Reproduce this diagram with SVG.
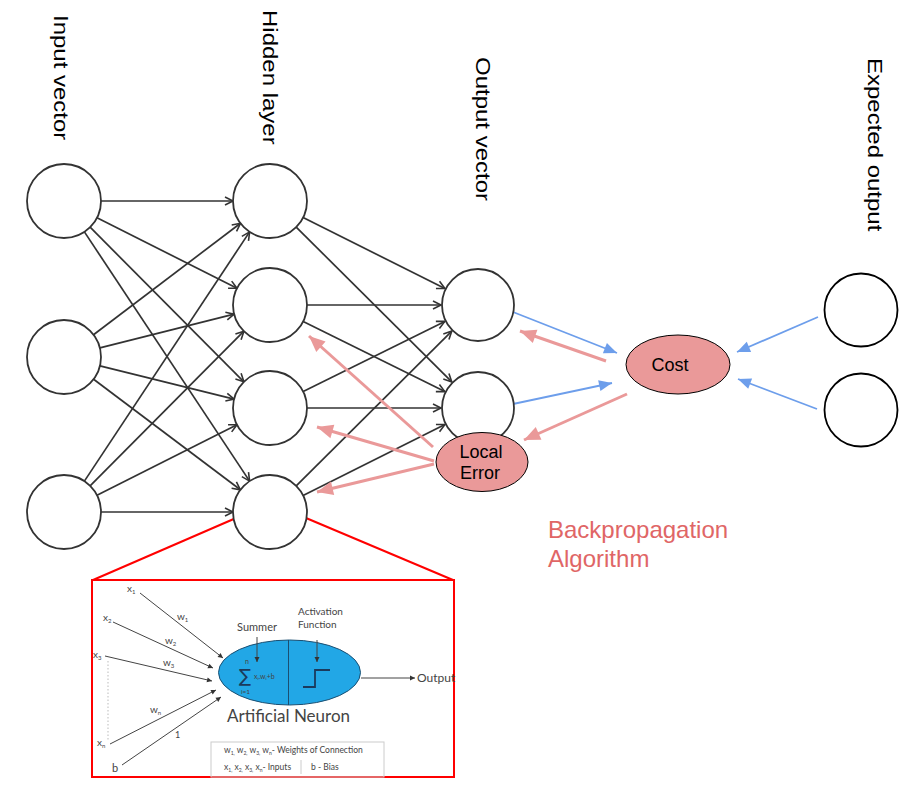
<svg xmlns="http://www.w3.org/2000/svg" width="912" height="785" viewBox="0 0 912 785">
<style>
.nn{fill:#fff;stroke:#333;stroke-width:1.8}
.ex{fill:#fff;stroke:#000;stroke-width:1.8}
.el{fill:#ea9999;stroke:#000;stroke-width:1}
.bl{stroke:#333;stroke-width:1.7;fill:none;marker-end:url(#chev)}
.bu{stroke:#6d9eeb;stroke-width:1.8;fill:none;marker-end:url(#blueA)}
.pk{stroke:#ea9999;stroke-width:3;fill:none;marker-end:url(#pinkA)}
.lab{font-family:"Liberation Sans",Arial,sans-serif;font-size:24px;fill:#000}
.et{font-family:"Liberation Sans",Arial,sans-serif;font-size:18px;fill:#000;text-anchor:middle}
.bp{font-family:"Liberation Sans",Arial,sans-serif;font-size:24px;fill:#e06666}
.il{stroke:#444;stroke-width:1;fill:none;marker-end:url(#smallA)}
.it{font-family:Lato,"Liberation Sans",sans-serif;fill:#444}
</style>
<defs>
<marker id="chev" viewBox="-10 -6 12 12" refX="0" refY="0" markerWidth="12" markerHeight="12" markerUnits="userSpaceOnUse" orient="auto">
<path d="M-8,-4 L0,0 L-8,4" fill="none" stroke="#333" stroke-width="1.6"/>
</marker>
<marker id="blueA" viewBox="-14 -7 16 14" refX="0" refY="0" markerWidth="16" markerHeight="14" markerUnits="userSpaceOnUse" orient="auto">
<path d="M-13,-5.5 L0,0 L-13,5.5 Z" fill="#6d9eeb"/>
</marker>
<marker id="pinkA" viewBox="-18 -9 20 18" refX="0" refY="0" markerWidth="20" markerHeight="18" markerUnits="userSpaceOnUse" orient="auto">
<path d="M-16,-7 L0,0 L-16,7 Z" fill="#ea9999"/>
</marker>
<marker id="smallA" viewBox="-7 -4 8 8" refX="0" refY="0" markerWidth="8" markerHeight="8" markerUnits="userSpaceOnUse" orient="auto">
<path d="M-5,-2.5 L0,0 L-5,2.5 Z" fill="#333"/>
</marker>
</defs>
<rect width="912" height="785" fill="#fff"/>

<g id="labels">
<text class="lab" transform="translate(54,15) rotate(90) scale(1,0.88)">Input vector</text>
<text class="lab" transform="translate(263,10) rotate(90) scale(1,0.88)">Hidden layer</text>
<text class="lab" transform="translate(476,57) rotate(90) scale(1,0.88)">Output vector</text>
<text class="lab" transform="translate(868,58) rotate(90) scale(1,0.88)">Expected output</text>
<text class="bp" x="548" y="538">Backpropagation</text>
<text class="bp" x="548" y="567">Algorithm</text>
</g>

<g id="connectors">
<line class="bl" x1="101" y1="201" x2="233" y2="201"/>
<line class="bl" x1="97" y1="217.7" x2="237" y2="288.3"/>
<line class="bl" x1="90.1" y1="227.2" x2="243.9" y2="381.8"/>
<line class="bl" x1="84.4" y1="231.9" x2="249.6" y2="481.1"/>
<line class="bl" x1="93.5" y1="334.7" x2="240.5" y2="223.3"/>
<line class="bl" x1="99.9" y1="347.9" x2="234.1" y2="314.1"/>
<line class="bl" x1="99.9" y1="365.9" x2="234.1" y2="399.1"/>
<line class="bl" x1="93.6" y1="379.2" x2="240.4" y2="489.8"/>
<line class="bl" x1="84.4" y1="481.1" x2="249.6" y2="231.9"/>
<line class="bl" x1="90.1" y1="485.8" x2="243.9" y2="331.2"/>
<line class="bl" x1="97" y1="495.3" x2="237" y2="424.7"/>
<line class="bl" x1="101" y1="512" x2="233" y2="512"/>
<line class="bl" x1="303.1" y1="217.5" x2="444.9" y2="288.5"/>
<line class="bl" x1="296.2" y1="227.1" x2="451.8" y2="381.9"/>
<line class="bl" x1="307" y1="305" x2="441" y2="305"/>
<line class="bl" x1="303.2" y1="321.4" x2="444.8" y2="391.6"/>
<line class="bl" x1="303.2" y1="391.6" x2="444.8" y2="321.4"/>
<line class="bl" x1="307" y1="408" x2="441" y2="408"/>
<line class="bl" x1="296.2" y1="485.9" x2="451.8" y2="331.1"/>
<line class="bl" x1="303.1" y1="495.5" x2="444.9" y2="424.5"/>
<line class="bu" x1="513" y1="312" x2="617" y2="353"/>
<line class="bu" x1="513" y1="404" x2="612" y2="383"/>
<line class="bu" x1="818" y1="317" x2="737" y2="352"/>
<line class="bu" x1="817" y1="409" x2="738" y2="379"/>
<line class="pk" x1="606" y1="361" x2="520" y2="331"/>
<line class="pk" x1="627" y1="394" x2="524" y2="440"/>
<line class="pk" x1="433" y1="447" x2="309" y2="336"/>
<line class="pk" x1="434" y1="461" x2="317" y2="427"/>
<line class="pk" x1="434" y1="464" x2="317" y2="492"/>
<line stroke="#f00" stroke-width="2" x1="93" y1="580" x2="236" y2="518"/>
<line stroke="#f00" stroke-width="2" x1="306" y1="518" x2="453" y2="580"/>
</g>

<g id="in1"><circle class="nn" cx="64" cy="201" r="37"/></g>
<g id="in2"><circle class="nn" cx="64" cy="357" r="37"/></g>
<g id="in3"><circle class="nn" cx="64" cy="512" r="37"/></g>
<g id="h1"><circle class="nn" cx="270" cy="201" r="37"/></g>
<g id="h2"><circle class="nn" cx="270" cy="305" r="37"/></g>
<g id="h3"><circle class="nn" cx="270" cy="408" r="37"/></g>
<g id="h4"><circle class="nn" cx="270" cy="512" r="37"/></g>
<g id="o1"><circle class="nn" cx="478" cy="305" r="36"/></g>
<g id="o2"><circle class="nn" cx="478" cy="408" r="36"/></g>
<g id="e1"><circle class="ex" cx="861" cy="310" r="36.5"/></g>
<g id="e2"><circle class="ex" cx="861" cy="410" r="36.5"/></g>
<g id="cost"><ellipse class="el" cx="678" cy="364.5" rx="52" ry="29.5"/><text class="et" x="670" y="371">Cost</text></g>
<g id="localerror"><ellipse class="el" cx="482" cy="462" rx="46" ry="29.5"/><text class="et" x="481" y="458">Local</text><text class="et" x="480" y="479">Error</text></g>

<g id="inset">
<rect x="92" y="580" width="362" height="197" fill="#fff" stroke="#f00" stroke-width="2"/>
<line x1="108" y1="661" x2="108" y2="741" stroke="#bbb" stroke-width="1" stroke-dasharray="1.5,2"/>
<line class="il" x1="140" y1="593" x2="223" y2="658"/>
<line class="il" x1="113" y1="622" x2="213" y2="668"/>
<line class="il" x1="105" y1="656" x2="212" y2="681"/>
<line class="il" x1="110" y1="744" x2="216" y2="690"/>
<line class="il" x1="122" y1="765" x2="221" y2="697"/>
<text class="it" font-size="10" x="127" y="592">x<tspan font-size="6" dy="2">1</tspan></text>
<text class="it" font-size="10" x="177" y="620">w<tspan font-size="6" dy="2">1</tspan></text>
<text class="it" font-size="10" x="103" y="621">x<tspan font-size="6" dy="2">2</tspan></text>
<text class="it" font-size="10" x="165" y="644">w<tspan font-size="6" dy="2">2</tspan></text>
<text class="it" font-size="10" x="93" y="658">x<tspan font-size="6" dy="2">3</tspan></text>
<text class="it" font-size="10" x="163" y="666">w<tspan font-size="6" dy="2">3</tspan></text>
<text class="it" font-size="10" x="150" y="713">w<tspan font-size="6" dy="2">n</tspan></text>
<text class="it" font-size="10" x="97" y="746">x<tspan font-size="6" dy="2">n</tspan></text>
<text class="it" font-size="9" x="175" y="738" fill="#222">1</text>
<text class="it" font-size="11" x="112" y="772" fill="#222">b</text>
<ellipse cx="289.5" cy="672.5" rx="71" ry="32.5" fill="#22a7e6" stroke="#1b4f72" stroke-width="1"/>
<line x1="288.5" y1="640" x2="288.5" y2="705" stroke="#1b4f72" stroke-width="1"/>
<text class="it" font-size="11" x="257" y="631" text-anchor="middle" fill="#333">Summer</text>
<text class="it" font-size="10" x="298" y="615" fill="#333">Activation</text>
<text class="it" font-size="10" x="298" y="628" fill="#333">Function</text>
<line class="il" x1="257" y1="637" x2="257" y2="662"/>
<line class="il" x1="317" y1="640" x2="317" y2="662"/>
<text font-family="DejaVu Sans,sans-serif" font-size="18" x="239" y="682" fill="#1b3a5c">∑</text>
<text class="it" font-size="7" x="245" y="664" fill="#1b3a5c">n</text>
<text class="it" font-size="6.5" x="241" y="694" fill="#1b3a5c">i=1</text>
<text class="it" font-size="7" x="254" y="679" fill="#1b3a5c">x<tspan font-size="4.5" dy="1">i</tspan><tspan dy="-1">.w</tspan><tspan font-size="4.5" dy="1">i</tspan><tspan dy="-1">+b</tspan></text>
<path d="M303,687 H315 V670 H330" fill="none" stroke="#1b3a5c" stroke-width="1.8"/>
<line class="il" x1="361" y1="678" x2="415" y2="678"/>
<text class="it" font-size="12" x="417" y="682">Output</text>
<text class="it" font-size="17" x="227" y="722" fill="#333">Artificial Neuron</text>
<rect x="211" y="742" width="173" height="35" fill="none" stroke="#ccc" stroke-width="1"/>
<text class="it" font-size="8.5" x="224" y="753">w<tspan font-size="5" dy="1.5">1,</tspan><tspan dy="-1.5"> w</tspan><tspan font-size="5" dy="1.5">2,</tspan><tspan dy="-1.5"> w</tspan><tspan font-size="5" dy="1.5">3,</tspan><tspan dy="-1.5"> w</tspan><tspan font-size="5" dy="1.5">n</tspan><tspan dy="-1.5">- Weights of Connection</tspan></text>
<text class="it" font-size="8.5" x="224" y="770">x<tspan font-size="5" dy="1.5">1,</tspan><tspan dy="-1.5"> x</tspan><tspan font-size="5" dy="1.5">2,</tspan><tspan dy="-1.5"> x</tspan><tspan font-size="5" dy="1.5">3,</tspan><tspan dy="-1.5"> x</tspan><tspan font-size="5" dy="1.5">n</tspan><tspan dy="-1.5">- Inputs</tspan></text>
<line x1="301" y1="760" x2="301" y2="774" stroke="#ccc" stroke-width="1"/>
<text class="it" font-size="8.5" x="311" y="770">b - Bias</text>
</g>
</svg>
